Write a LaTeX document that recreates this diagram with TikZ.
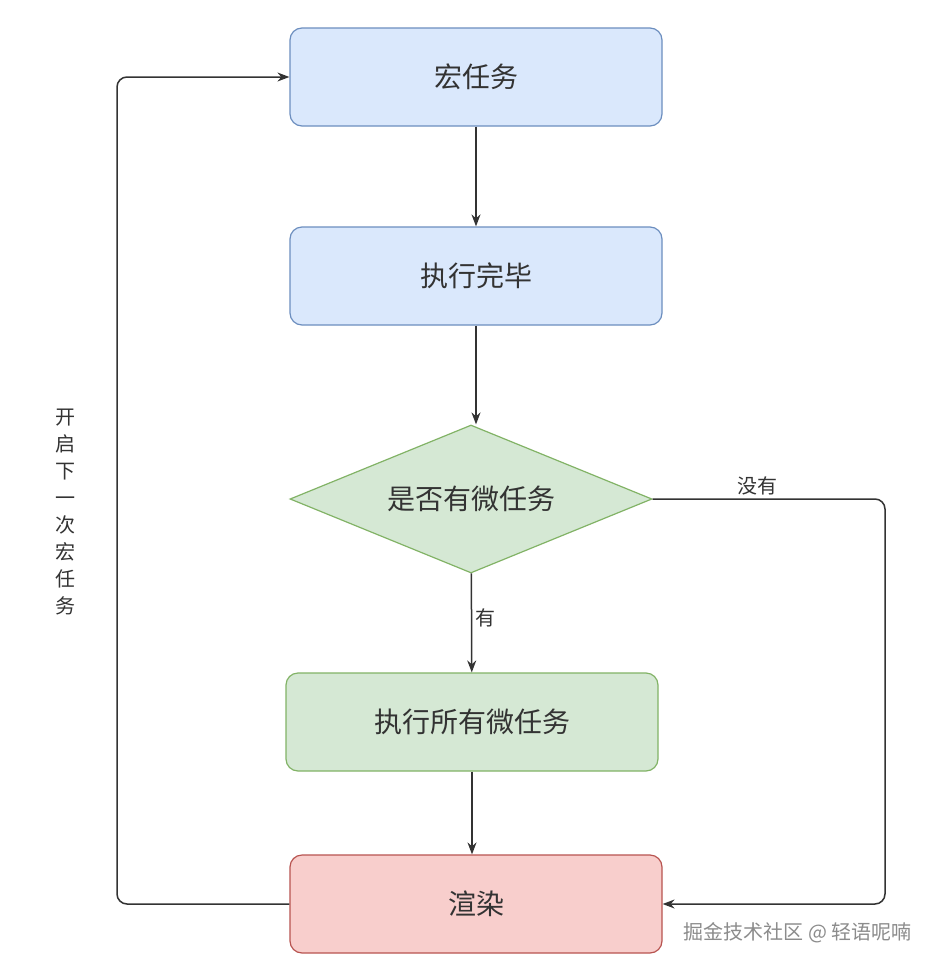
\documentclass[tikz,border=0pt]{standalone}
\usepackage{fontspec}
\setmainfont{Noto Sans CJK SC}
\usetikzlibrary{shapes.geometric,arrows.meta}
\definecolor{bf}{HTML}{DAE8FC}\definecolor{bd}{HTML}{6C8EBF}
\definecolor{gf}{HTML}{D5E8D4}\definecolor{gd}{HTML}{82B366}
\definecolor{rf}{HTML}{F8CECC}\definecolor{rd}{HTML}{B85450}
\definecolor{tx}{HTML}{333333}
\begin{document}
\begin{tikzpicture}[x=1pt,y=-1pt,
 boxb/.style={line width=1.2pt,rounded corners=12pt,minimum width=372pt,minimum height=98pt,text=tx,font=\fontsize{28}{30}\selectfont},
 arr/.style={-{Stealth[length=12pt,width=9pt]},line width=1.5pt,rounded corners=10pt,draw=tx},
 lab/.style={text=tx,font=\fontsize{20}{22}\selectfont}]
\fill[white] (0,0) rectangle (939,972);
\useasboundingbox (0,0) rectangle (939,972);
\node[boxb,draw=bd,fill=bf] (a) at (476,77) {宏任务};
\node[boxb,draw=bd,fill=bf] (b) at (476,276) {执行完毕};
\node[diamond,draw=gd,fill=gf,line width=1.2pt,aspect=2.45,minimum width=362pt,minimum height=148pt,inner sep=0pt,text=tx,font=\fontsize{28}{30}\selectfont] (c) at (471,499) {是否有微任务};
\node[boxb,draw=gd,fill=gf] (d) at (472,722) {执行所有微任务};
\node[boxb,draw=rd,fill=rf] (e) at (476,904) {渲染};
\draw[arr] (a) -- (b);
\draw[arr] (b) -- (b |- c.north);
\draw[arr] (c) -- node[lab,right,pos=0.45]{有} (d);
\draw[arr] (d) -- (d |- e.north);
\draw[arr] (c.east) -- node[lab,above,pos=0.45]{没有} (885,499) -- (885,904) -- (e.east);
\draw[arr] (e.west) -- (117,904) -- (117,77) -- (a.west);
\node[lab,align=center,font=\fontsize{20}{27}\selectfont] at (65,512) {开\\启\\下\\一\\次\\宏\\任\\务};
\node[font=\fontsize{20}{22}\selectfont,text=black!45,anchor=east] (w) at (915,933) {掘金技术社区 @ 轻语呢喃};
\end{tikzpicture}
\end{document}
